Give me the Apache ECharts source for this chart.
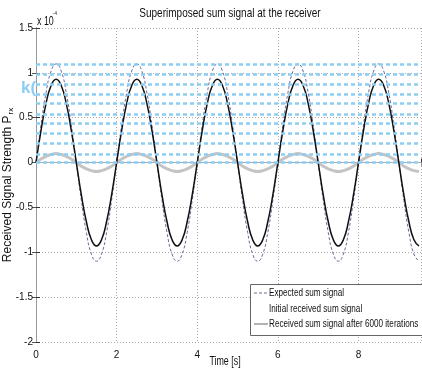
<!DOCTYPE html>
<html>
<head>
<meta charset="utf-8">
<script src="https://cdn.jsdelivr.net/npm/echarts@6/dist/echarts.min.js"></script>
<style>
  html, body { margin: 0; padding: 0; background: #fff; }
  #main { width: 422px; height: 373px; }
</style>
</head>
<body>
<div id="main"></div>
<script>
// time samples [s]
var timeAxis = [0, 0.125, 0.25, 0.375, 0.5, 0.625, 0.75, 0.875, 1, 1.125, 1.25, 1.375, 1.5, 1.625, 1.75, 1.875,
  2, 2.125, 2.25, 2.375, 2.5, 2.625, 2.75, 2.875, 3, 3.125, 3.25, 3.375, 3.5, 3.625, 3.75, 3.875,
  4, 4.125, 4.25, 4.375, 4.5, 4.625, 4.75, 4.875, 5, 5.125, 5.25, 5.375, 5.5, 5.625, 5.75, 5.875,
  6, 6.125, 6.25, 6.375, 6.5, 6.625, 6.75, 6.875, 7, 7.125, 7.25, 7.375, 7.5, 7.625, 7.75, 7.875,
  8, 8.125, 8.25, 8.375, 8.5, 8.625, 8.75, 8.875, 9, 9.125, 9.25, 9.375, 9.5];

// signal values, units of 1e-4
var expectedSum = [0, 0.42, 0.78, 1.02, 1.1, 1.02, 0.78, 0.42, 0, -0.42, -0.78, -1.02, -1.1, -1.02, -0.78, -0.42,
  0, 0.42, 0.78, 1.02, 1.1, 1.02, 0.78, 0.42, 0, -0.42, -0.78, -1.02, -1.1, -1.02, -0.78, -0.42,
  0, 0.42, 0.78, 1.02, 1.1, 1.02, 0.78, 0.42, 0, -0.42, -0.78, -1.02, -1.1, -1.02, -0.78, -0.42,
  0, 0.42, 0.78, 1.02, 1.1, 1.02, 0.78, 0.42, 0, -0.42, -0.78, -1.02, -1.1, -1.02, -0.78, -0.42,
  0, 0.42, 0.78, 1.02, 1.1, 1.02, 0.78, 0.42, 0, -0.42, -0.78, -1.02, -1.1];
var initialSum = [0, 0.36, 0.66, 0.86, 0.93, 0.86, 0.66, 0.36, 0, -0.36, -0.66, -0.86, -0.93, -0.86, -0.66, -0.36,
  0, 0.36, 0.66, 0.86, 0.93, 0.86, 0.66, 0.36, 0, -0.36, -0.66, -0.86, -0.93, -0.86, -0.66, -0.36,
  0, 0.36, 0.66, 0.86, 0.93, 0.86, 0.66, 0.36, 0, -0.36, -0.66, -0.86, -0.93, -0.86, -0.66, -0.36,
  0, 0.36, 0.66, 0.86, 0.93, 0.86, 0.66, 0.36, 0, -0.36, -0.66, -0.86, -0.93, -0.86, -0.66, -0.36,
  0, 0.36, 0.66, 0.86, 0.93, 0.86, 0.66, 0.36, 0, -0.36, -0.66, -0.86, -0.93];
var afterIterSum = [0, 0.04, 0.07, 0.09, 0.1, 0.09, 0.07, 0.04, 0, -0.04, -0.07, -0.09, -0.1, -0.09, -0.07, -0.04,
  0, 0.04, 0.07, 0.09, 0.1, 0.09, 0.07, 0.04, 0, -0.04, -0.07, -0.09, -0.1, -0.09, -0.07, -0.04,
  0, 0.04, 0.07, 0.09, 0.1, 0.09, 0.07, 0.04, 0, -0.04, -0.07, -0.09, -0.1, -0.09, -0.07, -0.04,
  0, 0.04, 0.07, 0.09, 0.1, 0.09, 0.07, 0.04, 0, -0.04, -0.07, -0.09, -0.1, -0.09, -0.07, -0.04,
  0, 0.04, 0.07, 0.09, 0.1, 0.09, 0.07, 0.04, 0, -0.04, -0.07, -0.09, -0.1];

// light blue dotted overlay levels
var overlayLevels = [1.1, 0.98, 0.87, 0.76, 0.66, 0.54, 0.44, 0.33, 0.22, 0.09, 0];

var yTicks = ['-2', '-1.5', '-1', '-0.5', '0', '0.5', '1', '1.5'];

var seriesNames = ['Expected sum signal', 'Initial received sum signal', 'Received sum signal after 6000 iterations'];

function pairs(vals) {
  return timeAxis.map(function (t, i) { return [t, vals[i]]; });
}

var sans = '"Liberation Sans", Arial, sans-serif';

function narrowText(txt, x, y, size, squeeze, align) {
  return {
    type: 'text', x: x, y: y, scaleX: squeeze, z: 100,
    style: { text: txt, font: size + 'px ' + sans, fill: '#111', align: align || 'left', verticalAlign: 'middle' }
  };
}

var chart = echarts.init(document.getElementById('main'));

chart.setOption({
  animation: false,
  backgroundColor: '#fff',
  grid: { left: 36, right: 1, top: 28, bottom: 31, outerBoundsMode: 'none', containLabel: false },
  xAxis: [{
    type: 'value', min: 0, max: 9.55, interval: 2,
    axisLine: { lineStyle: { color: '#333', width: 1 } },
    axisTick: { inside: true, length: 4, lineStyle: { color: '#333' } },
    axisLabel: {
      fontFamily: sans, fontSize: 10, color: '#111', margin: 8,
      formatter: function (v) { return v > 9 ? '' : String(v); }
    },
    splitLine: { show: true, lineStyle: { color: '#aaa', type: [1, 2], width: 1 } }
  }, {
    type: 'value', min: 0, max: 9.55, interval: 2, position: 'top',
    axisLine: { show: true, lineStyle: { color: '#aaa', width: 1 } },
    axisTick: { inside: true, length: 4, lineStyle: { color: '#999' } },
    axisLabel: { show: false }, splitLine: { show: false }
  }],
  yAxis: [{
    type: 'value', min: -2, max: 1.5, interval: 0.5,
    name: '{a|Received Signal Strength P}{s|rx}', nameLocation: 'middle', nameGap: 21,
    nameMoveOverlap: false,
    nameTextStyle: {
      rich: {
        a: { fontFamily: sans, fontSize: 12, color: '#111' },
        s: { fontFamily: sans, fontSize: 8, color: '#111', padding: [7, 0, 0, 1] }
      }
    },
    axisLine: { show: true, lineStyle: { color: '#333', width: 1 } },
    axisTick: { show: true, inside: true, length: 4, lineStyle: { color: '#333' } },
    axisLabel: {
      fontFamily: sans, fontSize: 10, color: '#111', margin: 3,
      formatter: function (v) { return yTicks[Math.round((v + 2) * 2)]; }
    },
    splitLine: { show: true, lineStyle: { color: '#aaa', type: [1, 2], width: 1 } }
  }, {
    type: 'value', min: -2, max: 1.5, interval: 0.5, position: 'right',
    axisLine: { show: true, lineStyle: { color: '#999', width: 1 } },
    axisTick: { show: true, inside: true, length: 4, lineStyle: { color: '#555' } },
    axisLabel: { show: false }, splitLine: { show: false }
  }],
  graphic: [
    narrowText('Superimposed sum signal at the receiver', 230, 13, 13, 0.77, 'center'),
    narrowText('Time [s]', 225, 362, 12, 0.74, 'center'),
    narrowText('x 10', 37, 22, 12, 0.74),
    narrowText('-4', 53, 13, 6, 0.74),
    {
      type: 'text', x: 21, y: 80, z: 0,
      style: { text: 'k(', font: 'bold 17px Arial, sans-serif', fill: '#8ccdf3' }
    },
    // legend box
    {
      type: 'rect', z: 100,
      shape: { x: 250.5, y: 284.5, width: 172, height: 51 },
      style: { fill: '#fff', stroke: '#666', lineWidth: 1 }
    },
    {
      type: 'line', z: 101,
      shape: { x1: 254, y1: 293, x2: 268, y2: 293 },
      style: { stroke: '#6a6a9a', lineWidth: 1, lineDash: [3, 2] }
    },
    {
      type: 'line', z: 101,
      shape: { x1: 254, y1: 324, x2: 268, y2: 324 },
      style: { stroke: '#9a9a9a', lineWidth: 1.5 }
    },
    narrowText(seriesNames[0], 269, 293, 11, 0.74),
    narrowText(seriesNames[1], 269, 309, 11, 0.74),
    narrowText(seriesNames[2], 269, 324, 11, 0.74)
  ],
  series: [{
    name: 'overlay', type: 'line', data: [], z: 1, silent: true,
    markLine: {
      symbol: 'none', silent: true, label: { show: false },
      lineStyle: { color: '#8ccdf3', type: [4, 3], width: 2.5 },
      data: overlayLevels.map(function (v) { return { yAxis: v }; })
    }
  }, {
    name: seriesNames[2], type: 'line', smooth: true, symbol: 'none', z: 2,
    lineStyle: { color: '#c4c4c4', width: 3 },
    data: pairs(afterIterSum)
  }, {
    name: seriesNames[0], type: 'line', smooth: true, symbol: 'none', z: 3,
    lineStyle: { color: '#6a6a9a', width: 1, type: [3, 2] },
    data: pairs(expectedSum)
  }, {
    name: seriesNames[1], type: 'line', smooth: true, symbol: 'none', z: 4,
    lineStyle: { color: '#111', width: 1.5 },
    data: pairs(initialSum)
  }]
});
</script>
</body>
</html>
